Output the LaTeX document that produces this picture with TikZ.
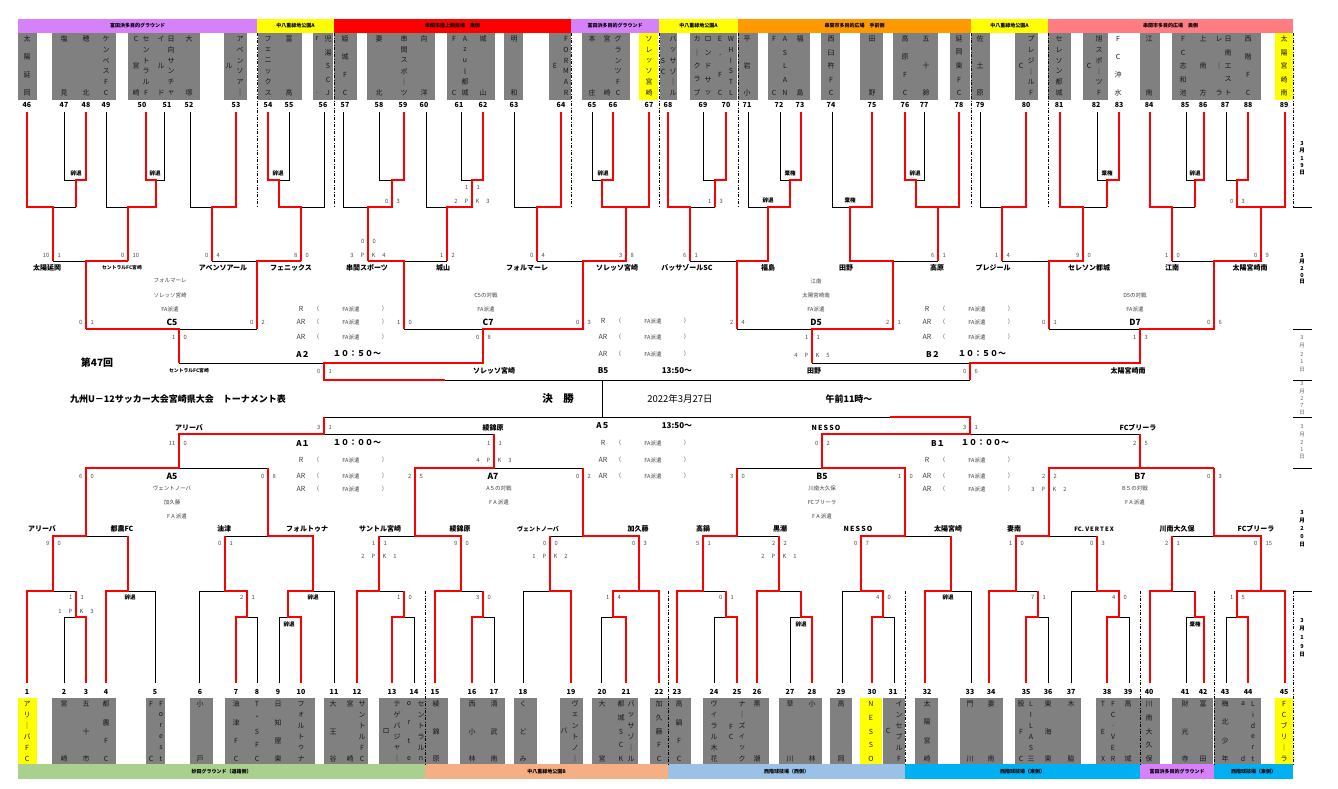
\documentclass[tikz,border=0pt]{standalone}
\usepackage{fontspec}
\setmainfont{Noto Sans CJK JP}
\definecolor{hpur}{RGB}{214,128,250}
\definecolor{hyel}{RGB}{255,255,0}
\definecolor{hred}{RGB}{255,0,0}
\definecolor{hora}{RGB}{255,153,0}
\definecolor{hsal}{RGB}{255,124,128}
\definecolor{hgrn}{RGB}{169,208,142}
\definecolor{hpch}{RGB}{244,176,132}
\definecolor{hlbl}{RGB}{155,194,230}
\definecolor{hcyn}{RGB}{0,176,240}
\definecolor{tbox}{RGB}{128,128,128}
\tikzset{
 bk/.style={line width=0.8pt,black},
 rd/.style={line width=1.8pt,red},
 dsh/.style={line width=0.8pt,black,dash pattern=on 3pt off 1.5pt on 1pt off 1.5pt},
 tc/.style={font=\fontsize{7}{7}\selectfont,inner sep=0pt,text=black!90},
 num/.style={font=\bfseries\fontsize{7}{7}\selectfont,inner sep=0pt},
 scl/.style={font=\fontsize{5.8}{6}\selectfont,inner sep=0pt,text=black!70},
 lbl/.style={font=\bfseries\fontsize{7}{7}\selectfont,inner sep=0pt},
 lbs/.style={font=\bfseries\fontsize{4.8}{5}\selectfont,inner sep=0pt},
 lbm/.style={font=\bfseries\fontsize{6}{6}\selectfont,inner sep=0pt},
 sml/.style={font=\fontsize{5.5}{5.5}\selectfont,inner sep=0pt,text=black!75},
 blk/.style={font=\bfseries\fontsize{8.5}{8.5}\selectfont,inner sep=0pt},
 hdr/.style={font=\bfseries\fontsize{5}{5}\selectfont,inner sep=0pt},
 ref/.style={font=\fontsize{7}{7}\selectfont,inner sep=0pt,text=black!75},
 tm/.style={font=\bfseries\fontsize{8}{8}\selectfont,inner sep=0pt},
 jt/.style={font=\bfseries\fontsize{5.5}{5.5}\selectfont,inner sep=0pt},
 dtb/.style={font=\bfseries\fontsize{5.5}{5.5}\selectfont,inner sep=0pt},
 dtr/.style={font=\fontsize{5.5}{5.5}\selectfont,inner sep=0pt,text=black!60},
}
\newcommand\VColS[6]{\foreach \c [count=\i] in {#6}{\pgfmathsetmacro\yy{#3+(\i-1)*(#4-(#3))/max(#5-1,1)}\node[#1] at (#2,\yy) {\c};}}
\newcommand\VCol[5]{\VColS{tc}{#1}{#2}{#3}{#4}{#5}}
\newcommand\TopCol[3]{\VColS{tc}{#1}{39}{93}{#2}{#3}}
\newcommand\BotCol[3]{\VColS{tc}{#1}{704}{759}{#2}{#3}}
\newcommand\ScorePair[4]{\node[scl,anchor=east] at ({#1-3.5},#2) {#3};\node[scl,anchor=west] at ({#1+4.5},#2) {#4};}
\newcommand\ScorePK[4]{\node[scl] at ({#1-16},#2) {#3};\node[scl] at ({#1-5.5},#2) {P};\node[scl] at ({#1+5.5},#2) {K};\node[scl] at ({#1+16},#2) {#4};}
\newcommand\RefRow[3]{\node[ref] at (#1,#2) {#3};\node[sml] at ({#1+17},#2) {(};\node[sml] at ({#1+50},#2) {FA派遣};\node[sml] at ({#1+82},#2) {)};}
\newcommand\HBar[6]{\fill[#5] (#1,#3) rectangle (#2,#4);\node[hdr] at ({(#1+#2)/2},{(#3+#4)/2}) {#6};}
\begin{document}
\begin{tikzpicture}[x=1pt,y=-1pt]
\useasboundingbox (0,0) rectangle (1338,788);
\fill[white] (0,0) rectangle (1338,788);
% ---------- header bars ----------
\HBar{18}{257}{19}{33}{hpur}{富田浜多目的グラウンド}
\HBar{257}{334}{19}{33}{hyel}{中八重緑地公園A}
\HBar{334}{571}{19}{33}{hred}{串間市陸上競技場　東側}
\HBar{571}{659}{19}{33}{hpur}{富田浜多目的グラウンド}
\HBar{659}{738}{19}{33}{hyel}{中八重緑地公園A}
\HBar{738}{971}{19}{33}{hora}{串間市多目的広場　手前側}
\HBar{971}{1048}{19}{33}{hyel}{中八重緑地公園A}
\HBar{1048}{1293}{19}{33}{hsal}{串間市多目的広場　奥側}
\HBar{18}{425}{764}{779}{hgrn}{妙田グラウンド（道路側）}
\HBar{425}{668}{764}{779}{hpch}{中八重緑地公園B}
\HBar{668}{905}{764}{779}{hlbl}{西階球技場（西側）}
\HBar{905}{1140}{764}{779}{hcyn}{西階球技場（東側）}
\HBar{1140}{1214}{764}{779}{hpur}{富田浜多目的グラウンド}
\HBar{1214}{1293}{764}{779}{hcyn}{西階球技場（東側）}
% ---------- team boxes ----------
\foreach \a/\b in {18/37,52/116,128/200,224/247,258/302,313/333,334/357,367/435,447/495,504/523,549/571,582/630,660/677,690/737,738/758,768/810,821/840,860/883,893/938,950/970,971/990,1015/1038,1048/1071,1083/1108,1140/1160,1172/1261}
  \fill[tbox] (\a,33) rectangle (\b,100);
\fill[hyel] (639,33) rectangle (658,100);
\fill[hyel] (1275,33) rectangle (1293,100);
\foreach \a/\b in {52/116,146/165,190/213,225/315,324/368,379/425,425/448,460/505,514/537,560/583,592/638,650/668,668/691,703/769,779/822,830/852,883/905,915/938,960/1003,1015/1081,1096/1140,1140/1160,1172/1213,1214/1261}
  \fill[tbox] (\a,698) rectangle (\b,764);
\fill[hyel] (18,698) rectangle (37,764);
\fill[hyel] (860,698) rectangle (882,764);
\fill[hyel] (1275,698) rectangle (1293,764);
% ---------- top team names ----------
\TopCol{27}{4}{太,陽,延,岡}
\TopCol{64}{2}{塩,見}
\TopCol{86}{2}{穂,北}
\TopCol{106}{6}{ケ,ン,ベ,ス,F,C}
\TopCol{136}{3}{C,宮,崎}
\TopCol{146}{6}{セ,ン,ト,ラ,ル,F}
\TopCol{161}{3}{イ,ル,ド}
\TopCol{171}{6}{日,向,サ,ン,チ,ャ}
\TopCol{189}{2}{大,塚}
\VCol{229}{66}{66}{1}{ル}
\TopCol{240}{6}{ア,ベ,ン,ソ,ア,｜}
\TopCol{268}{6}{フ,ェ,ニ,ッ,ク,ス}
\TopCol{289}{2}{富,高}
\TopCol{317}{2}{r,.}
\TopCol{328}{5}{児,湯,S,C,J}
\TopCol{345}{4}{姫,城,F,C}
\TopCol{379}{2}{妻,北}
\TopCol{404}{6}{串,間,ス,ポ,｜,ツ}
\TopCol{424}{2}{向,洋}
\TopCol{454}{2}{F,C}
\TopCol{465}{6}{A,z,u,l,都,城}
\TopCol{483}{2}{城,山}
\TopCol{514}{2}{明,和}
\VCol{555}{66}{66}{1}{E}
\TopCol{566}{6}{F,O,R,M,A,R}
\TopCol{592}{2}{本,庄}
\TopCol{607}{2}{宮,崎}
\TopCol{618}{6}{グ,ラ,ン,ツ,F,C}
\TopCol{649}{6}{ソ,レ,ッ,ソ,宮,崎}
\VCol{663}{61}{72}{2}{S,C}
\TopCol{673}{6}{バ,ッ,サ,ゾ,｜,ル}
\TopCol{697}{5}{カ,｜,ク,ラ,ブ}
\TopCol{708}{5}{ロ,ン,ド,サ,ッ}
\TopCol{720}{4}{E,{'},F,C}
\TopCol{731}{6}{W,H,I,S,T,L}
\TopCol{747}{3}{平,岩,小}
\TopCol{774}{2}{F,C}
\TopCol{785}{5}{A,S,L,A,N}
\TopCol{800}{2}{福,島}
\TopCol{831}{5}{西,臼,杵,F,C}
\TopCol{872}{2}{田,野}
\TopCol{905}{4}{高,原,F,C}
\TopCol{926}{3}{五,十,鈴}
\TopCol{959}{5}{延,岡,東,F,C}
\TopCol{980}{3}{佐,土,原}
\VCol{1021}{66}{66}{1}{C}
\TopCol{1031}{6}{プ,レ,ジ,｜,ル,F}
\TopCol{1059}{6}{セ,レ,ソ,ン,都,城}
\VCol{1089}{66}{66}{1}{C}
\TopCol{1099}{6}{旭,ス,ポ,｜,ツ,F}
\TopCol{1118}{4}{F,C,沖,水}
\TopCol{1149}{2}{江,南}
\TopCol{1183}{5}{F,C,志,和,池}
\TopCol{1203}{3}{上,南,方}
\TopCol{1219}{3}{レ,｜,ラ}
\TopCol{1228}{5}{日,南,エ,ス,ト}
\TopCol{1248}{4}{西,階,F,C}
\TopCol{1284}{5}{太,陽,宮,崎,南}
% ---------- bottom team names ----------
\BotCol{27}{6}{ア,リ,｜,バ,F,C}
\BotCol{64}{2}{宮,崎}
\BotCol{86}{3}{五,十,市}
\BotCol{106}{4}{都,農,F,C}
\BotCol{151}{2}{F,C}
\BotCol{161}{6}{F,o,r,e,s,t}
\BotCol{200}{2}{小,戸}
\BotCol{236}{4}{油,津,F,C}
\BotCol{257}{5}{T,・,S,F,C}
\BotCol{278}{4}{日,知,屋,東}
\BotCol{301}{6}{フ,ォ,ル,ト,ゥ,ナ}
\BotCol{333}{3}{大,王,谷}
\BotCol{350}{2}{宮,崎}
\BotCol{362}{6}{サ,ン,ト,ル,F,C}
\VCol{386}{731}{731}{1}{ロ}
\BotCol{397}{6}{テ,ゲ,バ,ジ,ャ,｜}
\BotCol{409}{4}{o,r,t,e}
\BotCol{421}{6}{セ,ン,ト,ラ,ル,n}
\BotCol{436}{3}{綾,錦,原}
\BotCol{472}{3}{西,小,林}
\BotCol{494}{3}{清,武,南}
\BotCol{523}{3}{く,ど,み}
\VCol{564}{731}{731}{1}{バ}
\BotCol{575}{6}{ヴ,ェ,ン,ト,ノ,｜}
\BotCol{602}{2}{大,宮}
\BotCol{621}{5}{都,城,S,C,K}
\BotCol{631}{6}{バ,ッ,サ,ゾ,｜,ル}
\BotCol{659}{5}{加,久,藤,F,C}
\BotCol{679}{4}{高,鍋,F,C}
\BotCol{714}{6}{ヴ,ィ,ラ,ル,木,花}
\VCol{731}{727}{737}{2}{F,C}
\BotCol{742}{6}{ナ,｜,ズ,ィ,ッ,ク}
\BotCol{757}{2}{黒,潮}
\BotCol{790}{2}{草,川}
\BotCol{812}{2}{小,林}
\BotCol{841}{2}{高,岡}
\BotCol{871}{5}{N,E,S,S,O}
\VCol{888}{731}{731}{1}{C}
\BotCol{899}{6}{イ,ン,セ,ブ,ル,F}
\BotCol{927}{4}{太,陽,宮,崎}
\BotCol{970}{2}{門,川}
\BotCol{991}{2}{妻,南}
\BotCol{1021}{3}{股,F,C}
\BotCol{1031}{6}{L,I,L,A,S,三}
\BotCol{1048}{3}{東,海,東}
\BotCol{1071}{2}{木,脇}
\BotCol{1103}{3}{T,E,X}
\BotCol{1113}{6}{F,C,.,V,E,R}
\BotCol{1128}{2}{高,城}
\BotCol{1149}{5}{川,南,大,久,保}
\BotCol{1185}{3}{財,光,寺}
\BotCol{1203}{2}{富,田}
\BotCol{1225}{4}{梅,北,少,年}
\BotCol{1243}{2}{a,d}
\BotCol{1253}{6}{L,i,d,e,r,t}
\BotCol{1284}{6}{F,C,ブ,リ,｜,ラ}
% ---------- team numbers ----------
\foreach \x/\n in {27/46,64/47,86/48,106/49,142/50,167/51,189/52,236/53,268/54,289/55,323/56,345/57,379/58,403/59,424/60,459/61,483/62,514/63,561/64,592/65,613/66,649/67,668/68,703/69,726/70,747/71,779/72,800/73,831/74,872/75,905/76,924/77,959/78,980/79,1026/80,1059/81,1096/82,1119/83,1149/84,1185/85,1203/86,1225/87,1248/88,1284/89}
  \node[num] at (\x,105) {\n};
\foreach \x/\n in {27/1,64/2,86/3,106/4,155/5,200/6,236/7,257/8,278/9,301/10,334/11,357/12,392/13,414/14,435/15,472/16,494/17,523/18,571/19,602/20,626/21,659/22,677/23,714/24,737/25,757/26,790/27,812/28,841/29,872/30,893/31,927/32,970/33,991/34,1026/35,1048/36,1071/37,1107/38,1128/39,1149/40,1185/41,1203/42,1225/43,1248/44,1284/45}
  \node[num] at (\x,692) {\n};
% ---------- separators ----------
\foreach \x in {257,334,571,659,738,971,1048,1293} \draw[dsh] (\x,33)--(\x,207);
\foreach \x in {425,668,905,1140,1214,1293} \draw[dsh] (\x,591)--(\x,764);
\foreach \y in {207,329,380,417,468,591} \draw[bk] (1293,\y)--(1312,\y);
% ---------- black bracket lines (upper) ----------
\draw[bk] (64,112)--(64,180)--(76,180);
\draw[bk] (76,207)--(53,207);
\draw[bk] (164,112)--(164,180)--(156,180);
\draw[bk] (106,112)--(106,207)--(128,207);
\draw[bk] (190,112)--(190,207)--(212,207);
\draw[bk] (53,261)--(86,261);
\draw[bk] (212,261)--(257,261);
\draw[bk] (289,112)--(289,180)--(279,180);
\draw[bk] (324,112)--(324,207)--(301,207);
\draw[bk] (179,329)--(257,329);
\draw[bk] (379,112)--(379,180)--(392,180);
\draw[bk] (343,112)--(343,207)--(368,207);
\draw[bk] (461,112)--(461,180)--(472,180);
\draw[bk] (426,112)--(426,207)--(447,207);
\draw[bk] (404,261)--(447,261);
\draw[bk] (514,112)--(514,207)--(537,207);
\draw[bk] (592,112)--(592,180)--(602,180);
\draw[bk] (537,261)--(583,261);
\draw[bk] (404,329)--(483,329);
\draw[bk] (179,363)--(324,363);
\draw[bk] (703,112)--(703,180)--(715,180);
\draw[bk] (715,207)--(690,207);
\draw[bk] (780,112)--(780,180)--(790,180);
\draw[bk] (748,112)--(748,207)--(768,207);
\draw[bk] (690,261)--(737,261);
\draw[bk] (832,112)--(832,207)--(850,207);
\draw[bk] (924,112)--(924,180)--(916,180);
\draw[bk] (893,261)--(938,261);
\draw[bk] (737,329)--(812,329);
\draw[bk] (980,112)--(980,207)--(1002,207);
\draw[bk] (1097,112)--(1097,180)--(1107,180);
\draw[bk] (1107,207)--(1083,207);
\draw[bk] (1002,261)--(1049,261);
\draw[bk] (1186,112)--(1186,180)--(1195,180);
\draw[bk] (1195,207)--(1172,207);
\draw[bk] (1226,112)--(1226,180)--(1237,180);
\draw[bk] (1172,261)--(1214,261);
\draw[bk] (1049,329)--(1140,329);
\draw[bk] (812,363)--(970,363);
\draw[bk] (324,380)--(970,380);
\draw[bk] (602,380)--(602,417);
\draw[bk] (324,417)--(970,417);
% ---------- black bracket lines (lower) ----------
\draw[bk] (64,683)--(64,617)--(76,617);
\draw[bk] (76,591)--(53,591);
\draw[bk] (155,683)--(155,591)--(128,591);
\draw[bk] (86,536)--(128,536);
\draw[bk] (257,683)--(257,617)--(247,617);
\draw[bk] (199,683)--(199,591)--(225,591);
\draw[bk] (279,683)--(279,617)--(288,617);
\draw[bk] (313,591)--(334,591)--(334,683);
\draw[bk] (225,536)--(268,536);
\draw[bk] (179,468)--(268,468);
\draw[bk] (414,683)--(414,617)--(404,617);
\draw[bk] (404,591)--(379,591);
\draw[bk] (461,591)--(483,591);
\draw[bk] (494,683)--(494,617)--(483,617);
\draw[bk] (379,536)--(415,536);
\draw[bk] (523,683)--(523,591)--(550,591);
\draw[bk] (601,683)--(601,617)--(613,617);
\draw[bk] (550,536)--(583,536);
\draw[bk] (494,468)--(583,468);
\draw[bk] (324,434)--(494,434);
\draw[bk] (714,683)--(714,617)--(726,617);
\draw[bk] (726,591)--(703,591);
\draw[bk] (790,683)--(790,617)--(801,617);
\draw[bk] (801,591)--(779,591);
\draw[bk] (737,536)--(779,536);
\draw[bk] (894,683)--(894,617)--(883,617);
\draw[bk] (842,683)--(842,591)--(861,591);
\draw[bk] (951,591)--(971,591)--(971,683);
\draw[bk] (905,536)--(951,536);
\draw[bk] (737,468)--(822,468);
\draw[bk] (970,434)--(1140,434);
\draw[bk] (1048,683)--(1048,617)--(1038,617);
\draw[bk] (1038,591)--(1016,591);
\draw[bk] (1071,683)--(1071,591)--(1097,591);
\draw[bk] (1129,683)--(1129,617)--(1119,617);
\draw[bk] (1049,536)--(1097,536);
\draw[bk] (1186,683)--(1186,617)--(1195,617);
\draw[bk] (1195,591)--(1172,591);
\draw[bk] (1226,683)--(1226,617)--(1237,617);
\draw[bk] (1172,536)--(1214,536);
% ---------- red lines (upper) ----------
\draw[rd] (86,112)--(86,180)--(76,180)--(76,207);
\draw[rd] (27,112)--(27,207)--(53,207)--(53,261);
\draw[rd] (146,112)--(146,180)--(156,180)--(156,207)--(128,207)--(128,261);
\draw[rd] (236,112)--(236,207)--(212,207)--(212,261);
\draw[rd] (128,261)--(86,261)--(86,329);
\draw[rd] (301,261)--(257,261)--(257,329);
\draw[rd] (268,112)--(268,180)--(279,180)--(279,207)--(301,207)--(301,261);
\draw[rd] (86,329)--(179,329)--(179,363);
\draw[rd] (404,112)--(404,180)--(392,180)--(392,207)--(368,207)--(368,261);
\draw[rd] (483,112)--(483,180)--(472,180)--(472,207)--(447,207)--(447,261);
\draw[rd] (368,261)--(404,261)--(404,329);
\draw[rd] (561,112)--(561,207)--(537,207)--(537,261);
\draw[rd] (613,112)--(613,180)--(602,180)--(602,207)--(649,207)--(649,112);
\draw[rd] (626,207)--(626,261)--(583,261)--(583,329)--(483,329)--(483,363)--(324,363)--(324,380)--(445,380);
\draw[rd] (726,112)--(726,180)--(715,180)--(715,207);
\draw[rd] (668,112)--(668,207)--(690,207)--(690,261);
\draw[rd] (801,112)--(801,180)--(790,180)--(790,207)--(768,207)--(768,261)--(737,261)--(737,329);
\draw[rd] (872,112)--(872,207)--(850,207)--(850,261)--(893,261)--(893,329)--(812,329)--(812,363);
\draw[rd] (905,112)--(905,180)--(916,180)--(916,207)--(959,207)--(959,112);
\draw[rd] (938,207)--(938,261);
\draw[rd] (1026,112)--(1026,207)--(1002,207)--(1002,261);
\draw[rd] (1119,112)--(1119,180)--(1107,180)--(1107,207);
\draw[rd] (1060,112)--(1060,207)--(1083,207)--(1083,261)--(1049,261)--(1049,329);
\draw[rd] (1204,112)--(1204,180)--(1195,180)--(1195,207);
\draw[rd] (1150,112)--(1150,207)--(1172,207)--(1172,261);
\draw[rd] (1248,112)--(1248,180)--(1237,180)--(1237,207)--(1285,207)--(1285,112);
\draw[rd] (1261,207)--(1261,261)--(1214,261)--(1214,329)--(1140,329)--(1140,363)--(970,363)--(970,380);
% ---------- red lines (lower) ----------
\draw[rd] (86,683)--(86,617)--(76,617)--(76,591);
\draw[rd] (27,683)--(27,591)--(53,591)--(53,536)--(86,536)--(86,468)--(179,468)--(179,434)--(324,434)--(324,417);
\draw[rd] (106,683)--(106,591)--(128,591)--(128,536);
\draw[rd] (236,683)--(236,617)--(247,617)--(247,591)--(225,591)--(225,536);
\draw[rd] (301,683)--(301,617)--(288,617)--(288,591)--(313,591)--(313,536)--(268,536)--(268,468);
\draw[rd] (392,683)--(392,617)--(404,617)--(404,591);
\draw[rd] (357,683)--(357,591)--(379,591)--(379,536);
\draw[rd] (435,683)--(435,591)--(461,591)--(461,536)--(415,536)--(415,468)--(494,468)--(494,434);
\draw[rd] (472,683)--(472,617)--(483,617)--(483,591);
\draw[rd] (571,683)--(571,591)--(550,591)--(550,536);
\draw[rd] (626,683)--(626,617)--(613,617)--(613,591)--(659,591)--(659,683);
\draw[rd] (639,591)--(639,536)--(583,536)--(583,468);
\draw[rd] (737,683)--(737,617)--(726,617)--(726,591);
\draw[rd] (677,683)--(677,591)--(703,591)--(703,536)--(737,536)--(737,468);
\draw[rd] (812,683)--(812,617)--(801,617)--(801,591);
\draw[rd] (757,683)--(757,591)--(779,591)--(779,536);
\draw[rd] (872,683)--(872,617)--(883,617)--(883,591)--(861,591)--(861,536)--(905,536)--(905,468)--(822,468)--(822,434)--(970,434)--(970,417)--(890,417);
\draw[rd] (925,683)--(925,591)--(951,591)--(951,536);
\draw[rd] (1026,683)--(1026,617)--(1038,617)--(1038,591);
\draw[rd] (989,683)--(989,591)--(1016,591)--(1016,536)--(1049,536)--(1049,468)--(1214,468);
\draw[rd] (1107,683)--(1107,617)--(1119,617)--(1119,591)--(1097,591)--(1097,536);
\draw[rd] (1204,683)--(1204,617)--(1195,617)--(1195,591);
\draw[rd] (1150,683)--(1150,591)--(1172,591)--(1172,536);
\draw[rd] (1248,683)--(1248,617)--(1237,617)--(1237,591)--(1285,591)--(1285,683);
\draw[rd] (1261,591)--(1261,536)--(1214,536)--(1214,468);
\draw[rd] (1140,468)--(1140,434);
% ---------- withdrawal labels ----------
\foreach \x/\t in {76/辞退,155/辞退,278/辞退,603/辞退,790/棄権,915/辞退,1107/棄権,1195/辞退}
  \node[jt] at (\x,173) {\t};
\node[jt] at (768,200) {辞退};
\node[jt] at (850,200) {棄権};
\node[jt] at (130,597) {辞退};
\node[jt] at (313,597) {辞退};
\node[jt] at (289,624) {辞退};
\node[jt] at (801,624) {辞退};
\node[jt] at (948,597) {辞退};
\node[jt] at (1195,624) {棄権};
% ---------- scores (upper) ----------
\ScorePair{392}{201}{0}{3}
\ScorePair{472}{187}{1}{1}
\ScorePK{472}{201}{2}{3}
\ScorePair{715}{201}{1}{3}
\ScorePair{1237}{201}{0}{3}
\ScorePair{53}{255}{10}{1}
\ScorePair{128}{255}{0}{10}
\ScorePair{212}{255}{0}{4}
\ScorePair{301}{255}{8}{0}
\ScorePair{368}{241}{0}{0}
\ScorePK{368}{255}{3}{4}
\ScorePair{447}{255}{1}{2}
\ScorePair{537}{255}{0}{4}
\ScorePair{626}{255}{3}{8}
\ScorePair{690}{255}{6}{1}
\ScorePair{938}{255}{6}{1}
\ScorePair{1002}{255}{1}{4}
\ScorePair{1083}{255}{9}{0}
\ScorePair{1172}{255}{1}{0}
\ScorePair{1261}{255}{0}{9}
\ScorePair{86}{322}{0}{1}
\ScorePair{257}{322}{0}{2}
\ScorePair{404}{322}{1}{0}
\ScorePair{583}{322}{0}{3}
\ScorePair{737}{322}{2}{4}
\ScorePair{893}{322}{2}{1}
\ScorePair{1049}{322}{0}{1}
\ScorePair{1214}{322}{0}{6}
\ScorePair{179}{337}{1}{0}
\ScorePair{483}{337}{0}{8}
\ScorePair{812}{337}{1}{1}
\ScorePK{812}{355}{4}{5}
\ScorePair{1140}{337}{1}{3}
\ScorePair{324}{371}{0}{1}
\ScorePair{970}{371}{0}{6}
% ---------- scores (lower) ----------
\ScorePair{324}{427}{3}{1}
\ScorePair{970}{427}{3}{1}
\ScorePair{179}{443}{11}{0}
\ScorePair{494}{443}{1}{1}
\ScorePK{494}{460}{4}{3}
\ScorePair{822}{443}{0}{2}
\ScorePair{1140}{443}{2}{5}
\ScorePair{86}{476}{6}{0}
\ScorePair{268}{476}{0}{8}
\ScorePair{415}{476}{2}{5}
\ScorePair{583}{476}{0}{2}
\ScorePair{737}{476}{3}{0}
\ScorePair{905}{476}{1}{0}
\ScorePair{1049}{476}{2}{2}
\ScorePK{1049}{489}{3}{2}
\ScorePair{1214}{476}{0}{3}
\ScorePair{53}{543}{9}{0}
\ScorePair{225}{543}{0}{1}
\ScorePair{379}{543}{1}{1}
\ScorePK{379}{556}{2}{1}
\ScorePair{461}{543}{9}{0}
\ScorePair{550}{543}{0}{0}
\ScorePK{550}{556}{1}{2}
\ScorePair{639}{543}{0}{3}
\ScorePair{703}{543}{5}{1}
\ScorePair{779}{543}{2}{2}
\ScorePK{779}{556}{2}{1}
\ScorePair{861}{543}{0}{7}
\ScorePair{1016}{543}{1}{0}
\ScorePair{1097}{543}{0}{3}
\ScorePair{1172}{543}{2}{1}
\ScorePair{1261}{543}{0}{15}
\ScorePair{76}{597}{1}{1}
\ScorePK{76}{611}{1}{3}
\ScorePair{247}{597}{2}{1}
\ScorePair{404}{597}{1}{0}
\ScorePair{483}{597}{3}{0}
\ScorePair{613}{597}{1}{4}
\ScorePair{726}{597}{0}{1}
\ScorePair{883}{597}{4}{0}
\ScorePair{1038}{597}{7}{1}
\ScorePair{1119}{597}{4}{0}
\ScorePair{1237}{597}{1}{5}
% ---------- winner labels ----------
\foreach \x/\t in {47/太陽延岡,223/アベンソアール,291/フェニックス,367/串間スポーツ,443/城山,527/フォルマーレ,617/ソレッソ宮崎,687/バッサゾールSC,768/福島,846/田野,937/高原,993/プレジール,1089/セレソン都城,1172/江南,1250/太陽宮崎南}
  \node[lbl] at (\x,268) {\t};
\node[lbs] at (122,268) {セントラルFC宮崎};
\node[lbs] at (189,371) {セントラルFC宮崎};
\node[lbl] at (494,371) {ソレッソ宮崎};
\node[lbl] at (814,371) {田野};
\node[lbl] at (1128,371) {太陽宮崎南};
\foreach \x/\t in {42/アリーバ,122/都農FC,224/油津,307/フォルトゥナ,380/サントル宮崎,460/綾錦原,638/加久藤,703/高鍋,780/黒潮,858/N\,E\,S\,S\,O,948/太陽宮崎,1014/妻南,1177/川南大久保,1256/FCブリーラ}
  \node[lbl] at (\x,529) {\t};
\node[lbm] at (538,529) {ヴェントノーバ};
\node[lbm] at (1094,529) {FC.\ V\,E\,R\,T\,E\,X};
\node[lbl] at (189,428) {アリーバ};
\node[lbl] at (493,428) {綾錦原};
\node[lbl] at (826,428) {N\,E\,S\,S\,O};
\node[lbl] at (1138,428) {FCブリーラ};
% ---------- match blocks ----------
\node[sml] at (170,281) {フォルマーレ};
\node[sml] at (170,295) {ソレッソ宮崎};
\node[sml] at (170,309) {FA派遣};
\node[blk] at (172,322) {C5};
\node[sml] at (486,295) {C5の対戦};
\node[sml] at (486,309) {FA派遣};
\node[blk] at (488,322) {C7};
\node[sml] at (816,281) {江南};
\node[sml] at (816,295) {太陽宮崎南};
\node[sml] at (816,309) {FA派遣};
\node[blk] at (816,322) {D5};
\node[sml] at (1135,295) {D5の対戦};
\node[sml] at (1135,309) {FA派遣};
\node[blk] at (1135,322) {D7};
\node[blk] at (172,476) {A5};
\node[sml] at (172,488) {ヴェントノーバ};
\node[sml] at (172,502) {加久藤};
\node[sml] at (177,516) {F A 派遣};
\node[blk] at (493,476) {A7};
\node[sml] at (499,488) {A５の対戦};
\node[sml] at (499,502) {F A 派遣};
\node[blk] at (822,476) {B5};
\node[sml] at (822,488) {川南大久保};
\node[sml] at (822,502) {FCブリーラ};
\node[sml] at (822,516) {F A 派遣};
\node[blk] at (1140,476) {B7};
\node[sml] at (1135,488) {B５の対戦};
\node[sml] at (1135,502) {F A 派遣};
% ---------- referee rows & times ----------
\RefRow{301}{309}{R}\RefRow{301}{322}{AR}\RefRow{301}{337}{AR}
\node[tm] at (303,354) {A２};\node[tm] at (357,354) {１０：５０～};
\RefRow{603}{321}{R}\RefRow{603}{337}{AR}\RefRow{603}{354}{AR}
\node[tm] at (603,371) {B5};\node[tm] at (677,371) {13:50～};
\RefRow{927}{309}{R}\RefRow{927}{322}{AR}\RefRow{927}{337}{AR}
\node[tm] at (933,354) {B２};\node[tm] at (982,354) {１０：５０～};
\node[tm] at (603,426) {A５};\node[tm] at (677,426) {13:50～};
\RefRow{603}{443}{R}\RefRow{603}{460}{AR}\RefRow{603}{476}{AR}
\node[tm] at (303,443) {A１};\node[tm] at (357,443) {１０：００～};
\RefRow{301}{460}{R}\RefRow{301}{476}{AR}\RefRow{301}{489}{AR}
\node[tm] at (938,443) {B１};\node[tm] at (985,443) {１０：００～};
\RefRow{927}{460}{R}\RefRow{927}{476}{AR}\RefRow{927}{489}{AR}
% ---------- titles ----------
\node[font=\bfseries\fontsize{10}{10}\selectfont,inner sep=0pt] (kai) at (97,363) {第47回};
\node[font=\bfseries\fontsize{9}{9}\selectfont,inner sep=0pt] (title) at (178,399) {九州U－12サッカー大会宮崎県大会　トーナメント表};
\node[font=\bfseries\fontsize{10.5}{10.5}\selectfont,inner sep=0pt] (kessho) at (558,399) {決　勝};
\node[font=\fontsize{9.5}{9.5}\selectfont,inner sep=0pt] (date) at (680,399) {2022年3月27日};
\node[font=\bfseries\fontsize{9}{9}\selectfont,inner sep=0pt] (time) at (849,399) {午前11時～};
% ---------- date column ----------
\VColS{dtb}{1302}{143}{173}{5}{3,月,1,9,日}
\VColS{dtb}{1302}{255}{282}{5}{3,月,2,0,日}
\VColS{dtr}{1302}{338}{370}{5}{3,月,2,1,日}
\VColS{dtr}{1302}{384}{413}{5}{3,月,2,7,日}
\VColS{dtr}{1302}{427}{457}{5}{3,月,2,1,日}
\VColS{dtb}{1302}{512}{545}{5}{3,月,2,0,日}
\VColS{dtb}{1302}{620}{655}{5}{3,月,1,9,日}
\end{tikzpicture}
\end{document}
